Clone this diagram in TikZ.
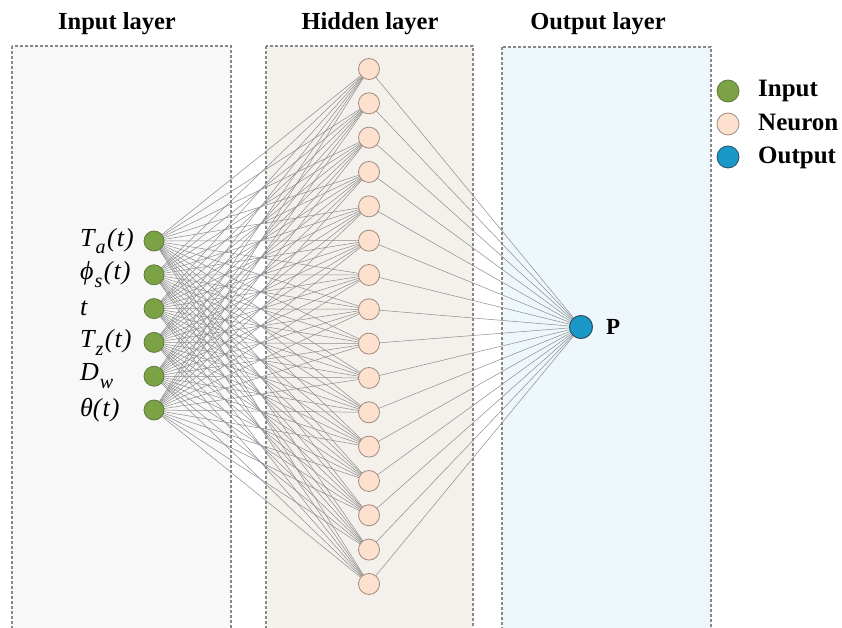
\documentclass[tikz,border=0pt]{standalone}
\usepackage{fontspec}
\setmainfont{Liberation Serif}
\usetikzlibrary{backgrounds}

\definecolor{inpfill}{RGB}{124,162,70}
\definecolor{inpline}{RGB}{96,122,60}
\definecolor{neufill}{RGB}{253,224,206}
\definecolor{neuline}{RGB}{160,138,124}
\definecolor{outfill}{RGB}{26,152,200}
\definecolor{outline}{RGB}{40,80,105}
\definecolor{boxline}{RGB}{136,136,136}
\definecolor{inbg}{RGB}{248,248,248}
\definecolor{hidbg}{RGB}{244,241,236}
\definecolor{outbg}{RGB}{238,247,252}
\definecolor{edgecol}{RGB}{140,140,140}

% italic subscript for the input variable names
\newcommand{\lsub}[1]{\raisebox{-0.3em}{\fontsize{20}{20}\selectfont\itshape #1}}

\begin{document}
\begin{tikzpicture}[x=1pt,y=-1pt,
  inp/.style={circle,draw=inpline,fill=inpfill,line width=0.8pt,minimum size=20pt,inner sep=0pt},
  neu/.style={circle,draw=neuline,fill=neufill,line width=0.8pt,minimum size=21pt,inner sep=0pt},
  outn/.style={circle,draw=outline,fill=outfill,line width=1pt,minimum size=23pt,inner sep=0pt},
  legdot/.style={circle,line width=0.8pt,minimum size=22pt,inner sep=0pt},
  layerbox/.style={draw=boxline,line width=1.1pt,dash pattern=on 3pt off 2pt},
  conn/.style={draw=edgecol,line width=0.5pt},
  title/.style={font=\fontsize{24.5}{26}\selectfont\bfseries,anchor=base,inner sep=0pt},
  legtext/.style={font=\fontsize{25}{27}\selectfont\bfseries,anchor=base west,inner sep=0pt},
  varlabel/.style={font=\fontsize{26}{28}\selectfont\itshape,anchor=west,inner sep=0pt}]

\clip (0,0) rectangle (842,628);
\useasboundingbox (0,0) rectangle (842,628);

% layer titles
\node[title] (tin)  at (117,30) {Input layer};
\node[title] (thid) at (370,30) {Hidden layer};
\node[title] (tout) at (598,30) {Output layer};

% input neurons and their variable labels
\foreach \i in {1,...,6}
  \node[inp] (i\i) at (154,{241+33.8*(\i-1)}) {};
\node[varlabel] (l1) at (80,241) {T\kern1pt\lsub{a}\kern1.5pt(\kern1pt t\kern1pt)};
\node[varlabel] (l2) at (80,274.8) {ϕ\kern1pt\lsub{s}\kern1.5pt(\kern1pt t\kern1pt)};
\node[varlabel] (l3) at (80,308.6) {t};
\node[varlabel] (l4) at (80,342.4) {T\kern1pt\lsub{z}\kern1.5pt(\kern1pt t\kern1pt)};
\node[varlabel] (l5) at (80,376.2) {D\kern1pt\lsub{w}};
\node[varlabel] (l6) at (80,410) {θ(\kern1pt t\kern1pt)};

% hidden neurons
\foreach \j in {1,...,16}
  \node[neu] (h\j) at (369,{69+34.33*(\j-1)}) {};

% output neuron
\node[outn] (o) at (581,327) {};
\node[font=\fontsize{23}{25}\selectfont\bfseries,anchor=base west,inner sep=0pt] (p) at (606,334) {P};

% legend
\node[legdot,draw=inpline,fill=inpfill] (lg1) at (728,91) {};
\node[legdot,draw=neuline,fill=neufill] (lg2) at (728,124) {};
\node[legdot,draw=outline,fill=outfill] (lg3) at (728,157) {};
\node[legtext] (lt1) at (758,97) {Input};
\node[legtext] (lt2) at (758,131) {Neuron};
\node[legtext] (lt3) at (758,164) {Output};

\begin{pgfonlayer}{background}
  % layer panels
  \fill[inbg]  (12,46) rectangle (231,640);
  \fill[hidbg] (266,46) rectangle (473,640);
  \fill[outbg] (502,47) rectangle (711,640);
  \draw[layerbox] (12,46) rectangle (231,640);
  \draw[layerbox] (266,46) rectangle (473,640);
  \draw[layerbox] (502,47) rectangle (711,640);
  % fully connected weights
  \foreach \i in {1,...,6}
    \foreach \j in {1,...,16}
      \draw[conn] (i\i.center) -- (h\j.center);
  \foreach \j in {1,...,16}
    \draw[conn] (h\j.center) -- (o.center);
\end{pgfonlayer}
\end{tikzpicture}
\end{document}
